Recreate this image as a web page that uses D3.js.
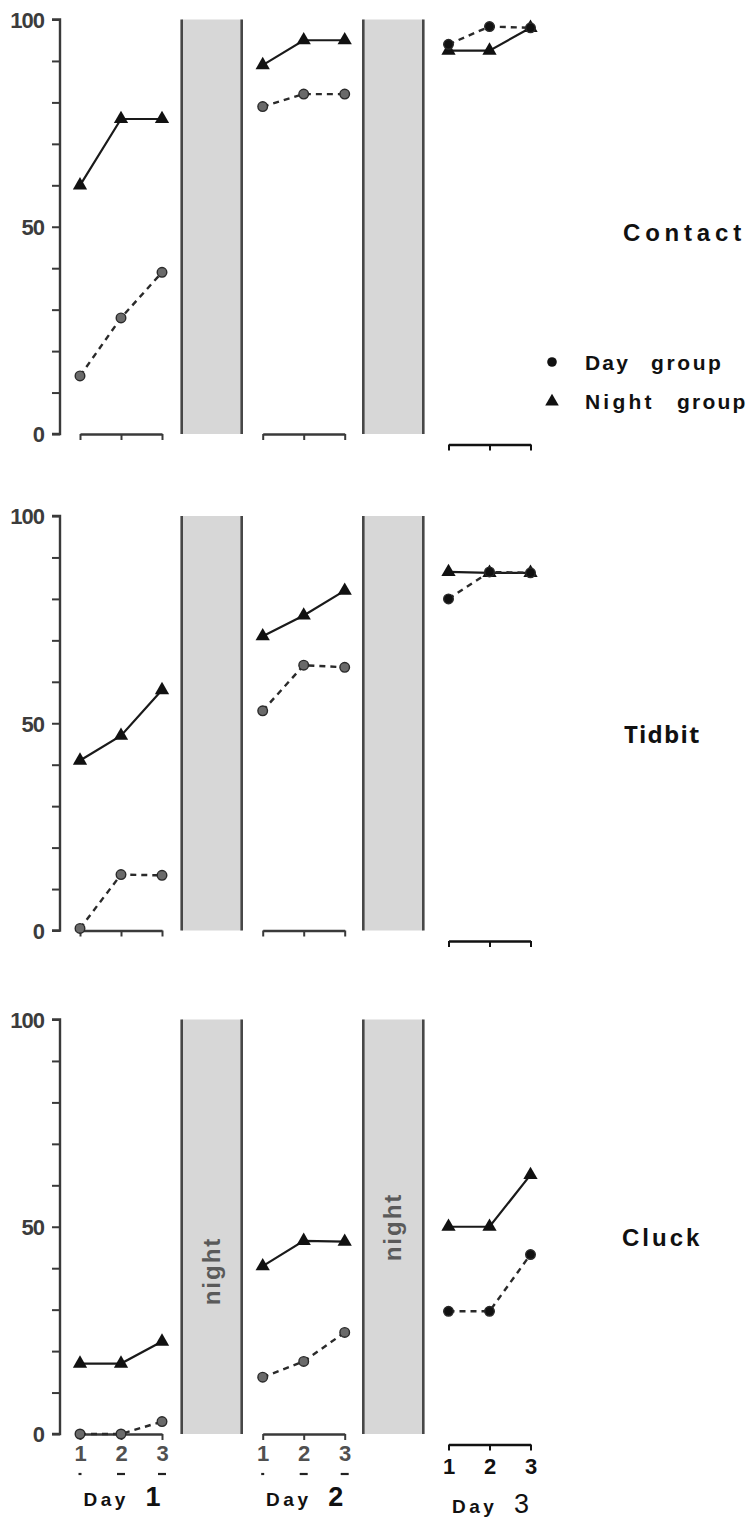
<!DOCTYPE html>
<html><head><meta charset="utf-8">
<script src="https://cdn.jsdelivr.net/npm/d3@7"></script>
<style>body{margin:0;background:#fff}svg{display:block}</style>
</head><body>
<script>
// ---- data ----
const behaviours = ["Contact", "Tidbit", "Cluck"];
const dayLabels = ["1", "2", "3"];
const sessions = [1, 2, 3];
const yTickValues = [0,10,20,30,40,50,60,70,80,90,100];
const yTickLabels = [0, 50, 100];
const groups = ["Day group", "Night group"];
// values per behaviour: [day1 sessions, day2 sessions, day3 sessions]
const contactDay   = [[14, 28, 39], [79, 82, 82], [94, 98.3, 98]];
const contactNight = [[60, 76, 76], [89, 95, 95], [92.5, 92.5, 98]];
const tidbitDay    = [[0.5, 13.5, 13.3], [53, 64, 63.5], [80, 86.5, 86.3]];
const tidbitNight  = [[41, 47, 58], [71, 76, 82], [86.5, 86.3, 86.3]];
const cluckDay     = [[0, 0, 3], [13.7, 17.5, 24.5], [29.6, 29.6, 43.3]];
const cluckNight   = [[17, 17, 22.3], [40.5, 46.6, 46.4], [50, 50, 62.5]];
const dayValues   = [contactDay, tidbitDay, cluckDay];
const nightValues = [contactNight, tidbitNight, cluckNight];

// ---- layout ----
const W = 749, H = 1519;
const panelTop = [19.5, 516, 1019.5];
const panelH = 414.5;
const dayStart = [80, 262.7, 448.5];
const daySpan = 82;
const dayAxisDrop = [0, 0, 10.5];
const nightBands = [[181.7, 241.7], [363.3, 423.3]];
const NARROW = "'Liberation Sans Narrow','Liberation Sans',Arial,sans-serif";
const SANS = "'Liberation Sans',Arial,sans-serif";

const svg = d3.select("body").append("svg").attr("width", W).attr("height", H)
  .attr("font-family", SANS).attr("font-weight", "bold");

behaviours.forEach((name, pi) => {
  const top = panelTop[pi], bottom = top + panelH;
  const y = d3.scaleLinear().domain([0, 100]).range([bottom, top]);
  const g = svg.append("g");

  // night bands
  nightBands.forEach((b, bi) => {
    g.append("rect").attr("x", b[0]).attr("y", y(100)).attr("width", b[1]-b[0]).attr("height", y(0)-y(100))
      .attr("fill", "#d7d7d7");
    [b[0], b[1]].forEach(xx => g.append("line").attr("x1", xx).attr("x2", xx).attr("y1", y(100)).attr("y2", y(0))
      .attr("stroke", "#474747").attr("stroke-width", 2.6));
    if (pi === 2) {
      const cy = bi === 0 ? 1271 : 1227;
      const cx = (b[0]+b[1])/2;
      g.append("text").attr("transform", `translate(${cx+8},${cy}) rotate(-90)`)
        .attr("text-anchor", "middle").attr("font-size", 24).attr("letter-spacing", 2)
        .attr("fill", "#5a5a5a").text("night");
    }
  });

  // y axis
  const yAxis = d3.axisLeft(y).tickValues(yTickValues).tickSize(8)
    .tickFormat(d => yTickLabels.includes(d) ? d : "");
  const ya = g.append("g").attr("transform", "translate(60,0)").call(yAxis)
    .attr("font-family", NARROW).attr("font-size", 22);
  ya.select(".domain").attr("stroke", "#3a3a3a").attr("stroke-width", 2.4).attr("d", `M-8,${y(100)}H0V${y(0)}H-8`);
  ya.selectAll(".tick line").attr("stroke", "#3a3a3a").attr("stroke-width", 2);
  ya.selectAll(".tick text").attr("fill", "#3c3c3c").attr("x", -16).attr("dy", "0.36em").attr("letter-spacing", -1);

  // day x axes and series
  dayStart.forEach((x0, di) => {
    const x = d3.scaleLinear().domain([1, 3]).range([x0, x0 + daySpan]);
    const axY = y(0) + dayAxisDrop[di];
    const xAxis = d3.axisBottom(x).tickValues(sessions).tickSize(6).tickSizeOuter(0)
      .tickFormat(pi === 2 ? (d => d) : (() => ""));
    const xa = g.append("g").attr("transform", `translate(0,${axY})`).call(xAxis)
      .attr("font-family", NARROW).attr("font-size", 22);
    xa.select(".domain").attr("stroke", di === 2 ? "#111" : "#3a3a3a").attr("stroke-width", 2.4);
    xa.selectAll(".tick line").attr("stroke", di === 2 ? "#111" : "#3a3a3a").attr("stroke-width", 2);
    xa.selectAll(".tick text").attr("y", di === 2 ? 14 : 11)
      .attr("fill", di === 2 ? "#111" : "#505050");
    if (pi === 2) {
      if (di < 2) {
        sessions.forEach(s => {
          const w = s === 1 ? 3 : 8;
          g.append("line").attr("x1", x(s)-w/2).attr("x2", x(s)+w/2).attr("y1", axY+40).attr("y2", axY+40)
            .attr("stroke", "#222").attr("stroke-width", 2.2);
        });
      }
      const lab = g.append("text").attr("x", x(2) + 1).attr("y", di === 2 ? 1513 : 1506).attr("text-anchor", "middle").attr("fill", "#111");
      lab.append("tspan").attr("font-size", 19).attr("letter-spacing", 3.5).text("Day ");
      lab.append("tspan").attr("font-size", 27).attr("dx", 8).attr("font-weight", di === 2 ? "normal" : "bold").text(dayLabels[di]);
    }

    const dark = di === 2;
    const line = d3.line().x((d, i) => x(sessions[i])).y(d => y(d));
    const dv = dayValues[pi][di], nv = nightValues[pi][di];
    g.append("path").attr("d", line(nv)).attr("fill", "none").attr("stroke", "#1a1a1a").attr("stroke-width", 2.2);
    g.append("path").attr("d", line(dv)).attr("fill", "none").attr("stroke", "#2a2a2a").attr("stroke-width", 2.4)
      .attr("stroke-dasharray", "6,5");
    g.selectAll(null).data(nv).join("path")
      .attr("d", d3.symbol(d3.symbolTriangle, 88))
      .attr("transform", (d, i) => `translate(${x(sessions[i])},${y(d)})`).attr("fill", "#111");
    g.selectAll(null).data(dv).join("circle")
      .attr("cx", (d, i) => x(sessions[i])).attr("cy", d => y(d)).attr("r", 4.8)
      .attr("fill", dark ? "#111" : "#6a6a6a").attr("stroke", "#2a2a2a").attr("stroke-width", 1.4);
  });
});

// behaviour labels
const labelStyle = [
  {x: 623, y: 241, ls: 4.8, font: SANS},
  {x: 624, y: 743, ls: 1.2, font: "'Open Sans','Liberation Sans',sans-serif"},
  {x: 622, y: 1246, ls: 3, font: SANS}
];
behaviours.forEach((b, i) => {
  const s = labelStyle[i];
  svg.append("text").attr("x", s.x).attr("y", s.y).attr("font-size", 24).attr("font-family", s.font)
    .attr("letter-spacing", s.ls).attr("fill", "#111").text(b);
});

// legend
const legY = [362, 401.5];
const legWordX = [[585, 651], [585, 677]];
const legSpacing = [[2.2, 2.6], [3.2, 2.2]];
groups.forEach((gname, i) => {
  if (i === 0) svg.append("circle").attr("cx", 552).attr("cy", legY[i]).attr("r", 4.8).attr("fill", "#111");
  else svg.append("path").attr("d", d3.symbol(d3.symbolTriangle, 80)).attr("transform", `translate(552,${legY[i]})`).attr("fill", "#111");
  const parts = gname.split(" ");
  const t = svg.append("text").attr("y", legY[i] + 7.5).attr("font-size", 21).attr("fill", "#111");
  parts.forEach((p, k) => t.append("tspan").attr("x", legWordX[i][k]).attr("letter-spacing", legSpacing[i][k]).text(p));
});
</script>
</body></html>
